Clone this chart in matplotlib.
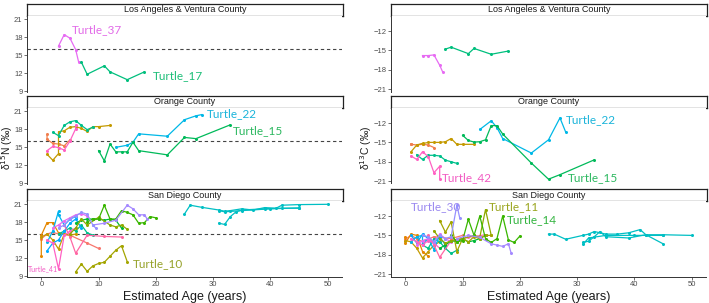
import matplotlib
matplotlib.use("Agg")
import matplotlib.pyplot as plt

# --- data: estimated age (years), d15N and d13C per turtle ---
# Los Angeles & Ventura County
t37_age = [3, 4, 5, 6, 6.5]
t37_n = [16.5, 18.4, 17.8, 15.9, 13.9]
t37_c = [-15.8, -15.8, -15.7, -17.3, -18.3]

t17_age = [7, 8, 11, 12, 15, 18]
t17_n = [13.8, 11.8, 13.2, 12.2, 10.9, 12.2]
t17_c = [-14.8, -14.5, -15.5, -14.7, -15.6, -15.1]

# Orange County
t22_age = [13, 15, 16, 17, 22, 25, 27, 28]
t22_n = [14.95, 15.3, 15.8, 17.2, 16.8, 19.55, 20.2, 20.4]
t22_c = [-13.0, -11.65, -12.7, -14.4, -16.65, -14.6, -11.2, -13.4]

t15_age = [10, 11, 12, 13, 14, 15, 16, 17, 22, 25, 27, 33]
t15_n = [14.4, 12.7, 15.5, 14.2, 14.2, 14.2, 15.8, 14.4, 13.7, 16.6, 16.4, 18.7]
t15_c = [-13.9, -14.7, -14.95, -14.9, -14.6, -12.4, -12.4, -13.7, -18.2, -20.7, -20.0, -17.7]

t42_age = [1, 2, 3, 4, 5, 6, 6]
t42_n = [14.4, 15.1, 14.9, 14.5, 16.0, 18.05, 18.6]
t42_c = [-17.1, -17.65, -16.45, -17.2, -19.7, -18.7, -20.75]

oc_teal_age = [2, 3, 4, 5, 6, 7, 8, 9]
oc_teal_n = [17.45, 16.9, 18.6, 19.2, 19.4, 18.6, 17.9, 18.3]
oc_teal_c = [-16.9, -17.65, -17.0, -17.0, -17.1, -17.75, -18.0, -18.25]

oc_orange_age = [1, 1, 2, 3, 4, 5]
oc_orange_n = [17.1, 16.3, 15.6, 15.5, 15.2, 16.2]
oc_orange_c = [-15.25, -15.3, -15.4, -15.3, -15.4, -15.8]

oc_gold_age = [1, 2, 3, 3, 4, 5, 6, 7, 8, 9, 10, 12]
oc_gold_n = [13.8, 12.8, 13.9, 17.55, 17.7, 18.3, 18.4, 18.1, 17.6, 18.4, 18.4, 18.6]
oc_gold_c = [-16.45, -15.4, -15.15, -15.2, -15.0, -15.0, -15.0, -14.9, -14.4, -15.3, -15.3, -15.3]

# San Diego County
t10_age = [6, 7, 8, 9, 10, 11, 12, 13, 14, 15]
t10_n = [9.7, 11.0, 9.8, 10.7, 11.1, 11.3, 12.3, 13.3, 14.05, 11.4]
t10_c = [-12.7, -14.5, -12.9, -17.5, -15.5, -16.0, -15.2, -15.5, -15.0, -15.0]

t11_age = [5, 6, 7, 8, 10, 12, 13, 14, 15]
t11_n = [16.0, 17.0, 18.5, 17.5, 18.8, 17.5, 17.2, 17.5, 16.8]
t11_c = [-14.3, -15.5, -16.2, -15.8, -15.5, -15.0, -15.3, -11.0, -15.0]

t14_age = [8, 9, 10, 11, 12, 13, 14, 15, 16, 17, 18, 19, 20]
t14_n = [18.0, 18.5, 18.5, 20.8, 18.5, 18.5, 19.9, 19.6, 19.2, 17.8, 17.9, 18.9, 18.7]
t14_c = [-15.0, -16.0, -15.8, -12.5, -15.0, -12.0, -15.5, -16.1, -15.5, -12.0, -15.7, -16.1, -15.1]

t30_age = [3, 4, 5, 6, 7, 8, 9, 9.5]
t30_n = [17.0, 17.5, 18.5, 19.0, 19.6, 19.3, 17.5, 17.0]
t30_c = [-15.0, -15.2, -16.0, -15.0, -15.5, -15.2, -10.3, -12.3]

sd_lav_age = [9, 11, 13, 15, 16, 17, 18, 18.5]
sd_lav_n = [17.5, 17.8, 18.3, 20.8, 20.2, 19.2, 19.2, 18.5]
sd_lav_c = [-15.5, -15.0, -15.3, -16.3, -16.5, -16.7, -16.3, -17.8]

t41_age = [1, 2, 3, 4, 5, 6]
t41_n = [15.0, 14.5, 10.2, 15.8, 16.5, 17.0]
t41_c = [-15.5, -16.0, -16.5, -15.8, -16.2, -17.0]

sd_orange_age = [0, 0, 1, 2, 3, 4]
sd_orange_n = [12.4, 15.8, 17.9, 17.9, 16.2, 16.0]
sd_orange_c = [-15.2, -16.2, -14.8, -15.0, -17.5, -18.2]

sd_red_age = [0, 1, 2, 3, 5, 8, 10]
sd_red_n = [15.2, 16.0, 16.3, 16.0, 15.8, 14.5, 13.6]
sd_red_c = [-15.6, -15.0, -15.5, -16.0, -15.2, -15.5, -15.0]

sd_blue_age = [1, 2, 3, 4, 5, 6, 7]
sd_blue_n = [13.2, 14.5, 15.0, 16.5, 17.8, 18.5, 17.0]
sd_blue_c = [-15.0, -16.2, -14.8, -15.5, -16.0, -15.2, -16.5]

sd_sky_age = [1, 2, 3, 3, 4, 5, 6]
sd_sky_n = [14.6, 16.5, 19.8, 19.2, 17.5, 18.5, 18.9]
sd_sky_c = [-16.0, -15.2, -15.0, -16.3, -15.5, -17.2, -15.0]

sd_mag_age = [2, 3, 4, 5, 6, 7, 8]
sd_mag_n = [17.0, 17.5, 18.2, 18.7, 19.2, 19.4, 19.0]
sd_mag_c = [-16.5, -15.8, -15.5, -16.0, -14.8, -15.5, -16.0]

sd_green_age = [6, 7, 8, 9, 10, 11, 12, 13, 14]
sd_green_n = [17.8, 18.3, 18.5, 18.5, 18.5, 18.3, 18.5, 18.3, 17.0]
sd_green_c = [-17.0, -16.5, -15.8, -16.0, -15.5, -16.0, -15.8, -15.5, -15.0]

sd_tgreen_age = [3, 4, 5, 6, 7, 8, 9]
sd_tgreen_n = [16.0, 16.5, 17.0, 16.5, 17.5, 16.2, 15.8]
sd_tgreen_c = [-16.5, -17.0, -15.5, -16.0, -17.0, -17.8, -17.3]

sd_gold_age = [0, 1, 2, 3, 4, 5, 6]
sd_gold_n = [15.5, 16.0, 15.0, 13.5, 16.0, 15.8, 16.0]
sd_gold_c = [-15.8, -16.0, -17.0, -18.5, -17.5, -16.5, -16.0]

sd_pink_age = [4, 5, 6, 8, 11, 14]
sd_pink_n = [17.5, 15.5, 12.8, 15.8, 15.6, 15.5]
sd_pink_c = [-15.0, -16.5, -18.4, -15.8, -15.3, -14.9]

sd_teal1_age = [25, 26, 28, 31, 32, 33, 35, 37, 39, 41, 42, 45, 50]
sd_teal1_n = [19.35, 20.8, 20.45, 20.0, 19.8, 19.9, 20.2, 20.0, 20.4, 20.3, 20.8, 20.9, 20.95]
sd_teal1_c = [-14.8, -14.8, -15.6, -15.0, -14.8, -14.4, -14.8, -14.8, -14.6, -14.1, -14.9, -14.9, -15.0]

sd_teal2_age = [31, 32, 33, 34, 35, 39, 42, 45]
sd_teal2_n = [17.8, 17.6, 18.9, 19.7, 20.0, 20.2, 20.3, 20.3]
sd_teal2_c = [-16.1, -15.9, -15.2, -14.4, -15.2, -15.4, -14.9, -16.3]

sd_teal3_age = [31, 32, 35, 40, 45]
sd_teal3_n = [19.9, 19.7, 19.9, 20.2, 20.35]
sd_teal3_c = [-16.4, -15.4, -15.0, -15.0, -15.0]

counties = ["Los Angeles & Ventura County", "Orange County", "San Diego County"]

series = [
    # county index, ages, d15N, d13C, colour
    (0, t37_age, t37_n, t37_c, "#E76BF3"),
    (0, t17_age, t17_n, t17_c, "#00BF7D"),
    (1, oc_orange_age, oc_orange_n, oc_orange_c, "#F07E4E"),
    (1, oc_gold_age, oc_gold_n, oc_gold_c, "#C49A00"),
    (1, oc_teal_age, oc_teal_n, oc_teal_c, "#00C08B"),
    (1, t42_age, t42_n, t42_c, "#FF61C3"),
    (1, t22_age, t22_n, t22_c, "#00B8E7"),
    (1, t15_age, t15_n, t15_c, "#00BA5A"),
    (2, sd_red_age, sd_red_n, sd_red_c, "#F8766D"),
    (2, sd_orange_age, sd_orange_n, sd_orange_c, "#E58700"),
    (2, sd_gold_age, sd_gold_n, sd_gold_c, "#C49A00"),
    (2, sd_tgreen_age, sd_tgreen_n, sd_tgreen_c, "#00C08B"),
    (2, sd_blue_age, sd_blue_n, sd_blue_c, "#00A9FF"),
    (2, sd_sky_age, sd_sky_n, sd_sky_c, "#00B4EF"),
    (2, sd_mag_age, sd_mag_n, sd_mag_c, "#E76BF3"),
    (2, sd_pink_age, sd_pink_n, sd_pink_c, "#FF67A4"),
    (2, t41_age, t41_n, t41_c, "#FF61C3"),
    (2, sd_green_age, sd_green_n, sd_green_c, "#00BA38"),
    (2, t11_age, t11_n, t11_c, "#8FAA00"),
    (2, t10_age, t10_n, t10_c, "#A3A500"),
    (2, t14_age, t14_n, t14_c, "#39B600"),
    (2, sd_lav_age, sd_lav_n, sd_lav_c, "#A58AFF"),
    (2, t30_age, t30_n, t30_c, "#9590FF"),
    (2, sd_teal1_age, sd_teal1_n, sd_teal1_c, "#00BFC4"),
    (2, sd_teal2_age, sd_teal2_n, sd_teal2_c, "#00BFC4"),
    (2, sd_teal3_age, sd_teal3_n, sd_teal3_c, "#00BFC4"),
]

# labels: (column, county, age, value, text, colour, size)
labels = [
    (0, 0, 5.4, 19.2, "Turtle_37", "#E26BE8", 8.5),
    (0, 0, 19.5, 11.5, "Turtle_17", "#1DBE78", 8.5),
    (0, 1, 28.9, 20.5, "Turtle_22", "#1AB4DA", 8.5),
    (0, 1, 33.4, 17.7, "Turtle_15", "#2DB860", 8.5),
    (0, 2, -2.3, 10.3, "Turtle_41", "#F25BC3", 5),
    (0, 2, 15.9, 11.0, "Turtle_10", "#96A22A", 8.5),
    (1, 1, 6.3, -20.5, "Turtle_42", "#F25BC3", 8.5),
    (1, 1, 28.1, -11.4, "Turtle_22", "#1AB4DA", 8.5),
    (1, 1, 28.3, -20.5, "Turtle_15", "#2DB860", 8.5),
    (1, 2, 1.0, -10.6, "Turtle_30", "#9A88F0", 8.5),
    (1, 2, 14.5, -10.6, "Turtle_11", "#9AA51E", 8.5),
    (1, 2, 17.8, -12.6, "Turtle_14", "#33B440", 8.5),
]

W, H = 709, 303
fig = plt.figure(figsize=(W / 100, H / 100), dpi=100)
plt.rcParams["font.family"] = ["Liberation Sans", "DejaVu Sans"]


def px_axes(x0, y0, x1, y1):
    return fig.add_axes([x0 / W, 1 - y1 / H, (x1 - x0) / W, (y1 - y0) / H])


col_x = [(27, 342), (391, 706)]
rows = [(4, 16, 91.5), (96, 108, 183.5), (189, 201, 276.5)]
ylims = [(8.93, 21.5), (-21.37, -9.67)]
yticks = [[9, 12, 15, 18, 21], [-21, -18, -15, -12]]

axes = {}
for ci, (x0, x1) in enumerate(col_x):
    for ri, (s0, s1, pb) in enumerate(rows):
        st = px_axes(x0, s0, x1 + 1, s1)
        st.set_xticks([])
        st.set_yticks([])
        for sp in st.spines.values():
            sp.set_linewidth(0.9)
            sp.set_color("#222222")
        st.text(0.5, 0.5, counties[ri], ha="center", va="center",
                fontsize=6.5, color="#1A1A1A", transform=st.transAxes)

        ax = px_axes(x0, s1, x1, pb)
        ax.set_xlim(-2.5, 52.5)
        ax.set_ylim(*ylims[ci])
        ax.set_yticks(yticks[ci])
        ax.set_xticks([0, 10, 20, 30, 40, 50])
        for side in ["top", "right"]:
            ax.spines[side].set_visible(False)
        ax.spines["left"].set_linewidth(0.7)
        ax.spines["left"].set_color("#333333")
        ax.tick_params(axis="y", length=2, width=0.5, colors="#333333",
                       labelsize=5.5, labelcolor="#4D4D4D", pad=1.2)
        if ri < 2:
            ax.spines["bottom"].set_visible(False)
            ax.tick_params(axis="x", bottom=False, labelbottom=False)
        else:
            ax.spines["bottom"].set_linewidth(0.7)
            ax.spines["bottom"].set_color("#333333")
            ax.tick_params(axis="x", length=2, width=0.5, colors="#333333",
                           labelsize=5.5, labelcolor="#4D4D4D", pad=1.5)
            ax.set_xlabel("Estimated Age (years)", fontsize=9, labelpad=2,
                          color="#1A1A1A")
        if ci == 0:
            ax.axhline(16, color="#444444", lw=0.8, ls=(0, (3, 2.5)), zorder=1)
        axes[(ci, ri)] = ax

for county, ages, n15, c13, color in series:
    for ci, vals in enumerate([n15, c13]):
        axes[(ci, county)].plot(ages, vals, color=color, lw=0.9, marker="o",
                                ms=2.2, mew=0, zorder=3)

for ci, county, x, y, text, color, size in labels:
    axes[(ci, county)].text(x, y, text, color=color, fontsize=size,
                            family=["Lato", "DejaVu Sans"], ha="left",
                            va="center", zorder=4)

fig.text(7.5 / W, 1 - 148 / H, "δ$^{15}$N (‰)", rotation=90, ha="center",
         va="center", fontsize=7.5, color="#1A1A1A")
fig.text(366.5 / W, 1 - 148 / H, "δ$^{13}$C (‰)", rotation=90, ha="center",
         va="center", fontsize=7.5, color="#1A1A1A")

fig.savefig("out.png", dpi=100)
